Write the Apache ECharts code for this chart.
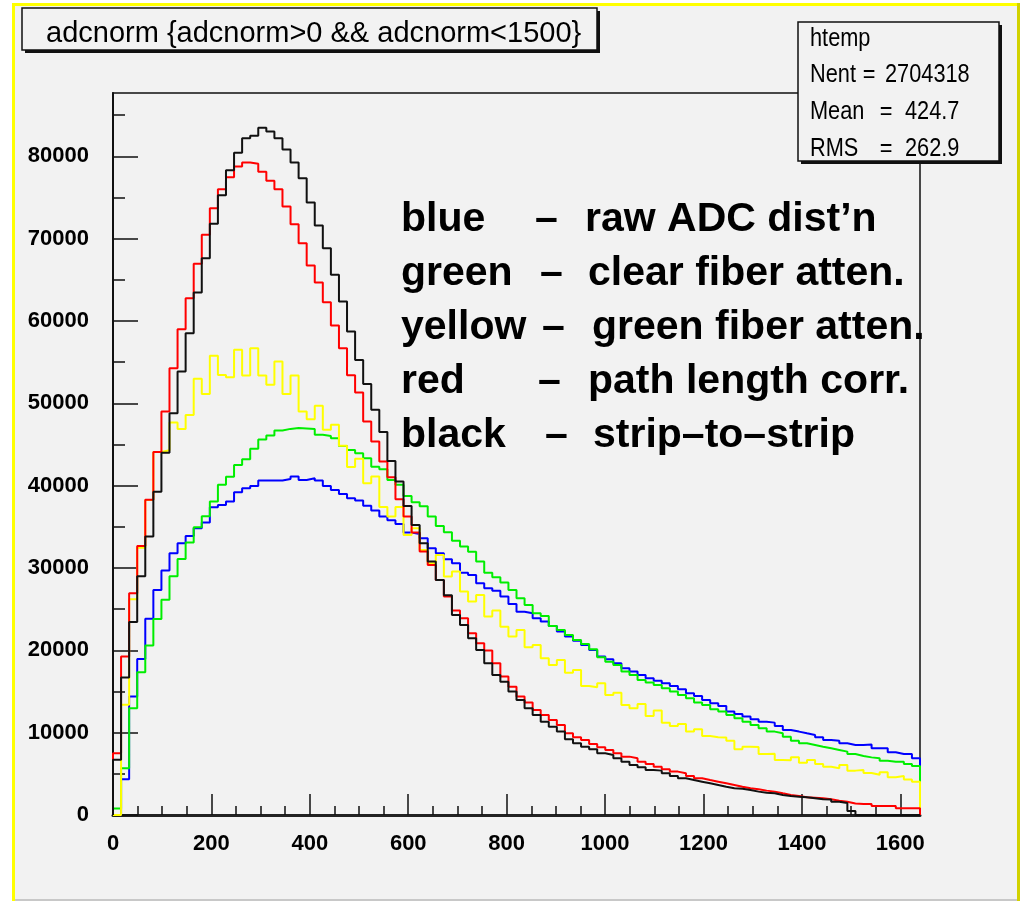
<!DOCTYPE html>
<html>
<head>
<meta charset="utf-8">
<script src="https://cdn.jsdelivr.net/npm/echarts@6/dist/echarts.min.js"></script>
<style>
html,body{margin:0;padding:0;background:#ffffff;}
#chart{width:1022px;height:902px;}
</style>
</head>
<body>
<div id="chart"></div>
<script>
// ---------------- data ----------------
const X_MIN = 0;
const X_MAX = 1640;
const N_BINS = 100;
const Y_MAX = 87700;
const xTickValues = [0, 200, 400, 600, 800, 1000, 1200, 1400, 1600];
const yTickValues = [0, 10000, 20000, 30000, 40000, 50000, 60000, 70000, 80000];
const xMinorStep = 50;
const yMinorStep = 5000;

const blueCounts = [
  0, 4330, 14380, 18950, 23850, 27340, 29690, 31790, 33000, 33900,
  34830, 35520, 37380, 37660, 38070, 39200, 39690, 39970, 40620, 40620,
  40620, 40820, 41110, 40700, 40900, 40620, 39970, 39490, 39000, 38480,
  38190, 37550, 36980, 36250, 35800, 35360, 34300, 34140, 33610, 32400,
  31800, 31070, 30580, 29440, 29160, 28150, 27540, 27250, 26530, 25640,
  24700, 24500, 23900, 23490, 22960, 22280, 21670, 21180, 20660, 20050,
  19240, 18920, 18430, 17820, 17420, 17010, 16610, 16320, 16000, 15670,
  15270, 14780, 14460, 13970, 13570, 13240, 12560, 12270, 11950, 11620,
  11340, 11220, 10810, 10330, 10130, 9920, 9720, 9440, 9110, 9030,
  8710, 8510, 8500, 8550, 8100, 8100, 7620, 7410, 7400, 6890
];
const greenCounts = [
  800, 5670, 12960, 17350, 20600, 23800, 26150, 29000, 31100, 33100,
  34950, 36300, 38070, 40100, 41100, 42520, 43210, 44500, 45600, 46100,
  46700, 46900, 47000, 46950, 46900, 46200, 46050, 45770, 44830, 44350,
  43940, 43340, 42300, 42000, 40700, 40100, 38760, 38000, 37500, 36250,
  35100, 34350, 33300, 32600, 31990, 30780, 29440, 28880, 28230, 27340,
  26330, 25520, 24500, 24180, 22960, 22480, 21870, 21260, 20780, 20130,
  19160, 18630, 18230, 17420, 17010, 16400, 16080, 15800, 15390, 14990,
  14580, 14180, 13650, 13370, 12840, 12560, 12150, 11750, 11340, 10940,
  10530, 10130, 9920, 9520, 9030, 8710, 8510, 8300, 8100, 7900,
  7700, 7410, 7170, 7000, 6890, 6600, 6480, 6480, 6200, 5950
];
const yellowCounts = [
  0, 13400, 26200, 32450, 38270, 44100, 44300, 47670, 46900, 48600,
  52980, 51150, 55770, 53460, 53180, 56500, 53380, 56700, 53380, 52250,
  55080, 51150, 53380, 49000, 48080, 49700, 46800, 47390, 44850, 42280,
  43270, 40300, 41110, 37420, 36250, 37420, 34020, 34830, 32200, 30580,
  31590, 28960, 29570, 27140, 25920, 26730, 24100, 24830, 22880, 21670,
  22480, 20370, 20660, 19040, 18230, 18830, 17290, 17620, 15670, 15510,
  16000, 14580, 14860, 13370, 12960, 13490, 12030, 12680, 11220, 10810,
  11060, 10130, 10410, 9600, 9440, 9400, 9030, 7980, 8300, 8250,
  7410, 7450, 6680, 6650, 7010, 6360, 6680, 6200, 5870, 5670,
  6080, 5390, 5470, 5100, 4900, 5200, 4580, 4740, 4300, 4050
];
const redCounts = [
  7500, 19240, 26940, 32680, 38300, 44100, 49000, 54270, 59010, 62780,
  66950, 70470, 73710, 76020, 77460, 78770, 79260, 79100, 78120, 77050,
  76000, 73910, 71770, 69460, 66740, 64680, 62290, 59450, 56700, 53420,
  51310, 47790, 45360, 42930, 41030, 38350, 36250, 34300, 32000, 30380,
  28550, 26530, 24830, 23900, 22070, 20860, 19970, 18430, 16810, 15590,
  14380, 13650, 12760, 12150, 11540, 10940, 9920, 9440, 9110, 8630,
  8220, 7900, 7490, 7090, 6890, 6480, 6200, 5870, 5550, 5270,
  5060, 4740, 4460, 4250, 4050, 3850, 3650, 3440, 3240, 3120,
  2960, 2840, 2630, 2430, 2310, 2150, 2100, 2030, 1900, 1740,
  1620, 1400, 1340, 1340, 1090, 1090, 1090, 810, 810, 810
];
const blackCounts = [
  6700, 16700, 23450, 29000, 33820, 39250, 44000, 48800, 53870, 58520,
  63460, 67640, 71810, 75270, 78330, 80430, 82210, 82500, 83470, 83020,
  82210, 80830, 79260, 77360, 74400, 71620, 68850, 65610, 62370, 58730,
  55280, 52350, 49210, 46530, 43010, 40500, 37540, 35240, 33010, 30800,
  28550, 26690, 24300, 23090, 21470, 20050, 18430, 17010, 16200, 14990,
  13970, 12960, 12150, 11340, 10730, 10130, 9190, 8710, 8300, 7980,
  7490, 7290, 6890, 6480, 6080, 5790, 5470, 5390, 5060, 4740,
  4460, 4250, 4050, 3850, 3650, 3440, 3240, 3200, 3040, 2840,
  2710, 2630, 2430, 2310, 2230, 2150, 2030, 1900, 1880, 1620,
  1460, 500, 0, 0, 0, 0, 0, 0, 0, 0
];

const seriesNames = ['blue', 'green', 'yellow', 'red', 'black'];
const seriesColors = ['#0000ff', '#00ee00', '#ffff00', '#ff0000', '#111111'];
const seriesCounts = [blueCounts, greenCounts, yellowCounts, redCounts, blackCounts];

const titleText = 'adcnorm {adcnorm>0 && adcnorm<1500}';
const statsName = 'htemp';
const statsLabels = ['Nent', 'Mean', 'RMS'];
const statsValues = ['2704318', '424.7', '262.9'];
const noteNames = ['blue', 'green', 'yellow', 'red', 'black'];
const noteDescs = ['raw ADC dist\u2019n', 'clear fiber atten.', 'green fiber atten.', 'path length corr.', 'strip\u2013to\u2013strip'];

// ---------------- helpers ----------------
function histPoints(counts) {
  const w = (X_MAX - X_MIN) / N_BINS;
  const pts = [[X_MIN, 0]];
  counts.forEach(function (c, i) { pts.push([X_MIN + i * w, c]); });
  pts.push([X_MAX, counts[counts.length - 1]]);
  pts.push([X_MAX, 0]);
  return pts;
}
function range(step, max) {
  const out = [];
  for (let v = 0; v <= max; v += step) out.push(v);
  return out;
}

// ---------------- chart ----------------
const chart = echarts.init(document.getElementById('chart'), null, { renderer: 'canvas' });

const GRID = { left: 113, top: 93, width: 807, height: 722 };

const graphics = [];
// page background + frame
graphics.push({ type: 'rect', silent: true, z: -100, shape: { x: 12, y: 3, width: 1008, height: 898 }, style: { fill: '#f2f2f2' } });
graphics.push({ type: 'rect', silent: true, z: 100, shape: { x: 12, y: 3, width: 3, height: 898 }, style: { fill: '#ffff00' } });
graphics.push({ type: 'rect', silent: true, z: 100, shape: { x: 12, y: 3, width: 1008, height: 3 }, style: { fill: '#ffff00' } });
graphics.push({ type: 'rect', silent: true, z: 100, shape: { x: 1017, y: 3, width: 3, height: 898 }, style: { fill: '#d2d200' } });
graphics.push({ type: 'rect', silent: true, z: 100, shape: { x: 15, y: 899, width: 1002, height: 2 }, style: { fill: '#c8c8c8' } });

// title box
graphics.push({ type: 'rect', silent: true, z: 50, shape: { x: 25, y: 11, width: 575, height: 42 }, style: { fill: '#111111' } });
graphics.push({ type: 'rect', silent: true, z: 51, shape: { x: 22, y: 8, width: 575, height: 42 }, style: { fill: '#f2f2f2', stroke: '#111111', lineWidth: 1.5 } });
graphics.push({ type: 'text', silent: true, z: 52, x: 46, y: 34, style: { text: titleText, fill: '#000', fontFamily: "'Liberation Sans', Arial", fontSize: 29, textAlign: 'left', align: 'left', textVerticalAlign: 'middle', verticalAlign: 'middle' } });

// stats box
graphics.push({ type: 'rect', silent: true, z: 50, shape: { x: 801, y: 25, width: 201, height: 139 }, style: { fill: '#111111' } });
graphics.push({ type: 'rect', silent: true, z: 51, shape: { x: 798, y: 22, width: 201, height: 139 }, style: { fill: '#f2f2f2', stroke: '#111111', lineWidth: 1.5 } });
const statFont = { fill: '#000', fontFamily: "'Liberation Sans', Arial", fontSize: 25, textVerticalAlign: 'middle', verticalAlign: 'middle' };
graphics.push({ type: 'text', silent: true, z: 52, x: 810, y: 39, scaleX: 0.87, style: Object.assign({ text: statsName, textAlign: 'left', align: 'left' }, statFont) });
const statRowY = [75.6, 112.3, 149];
const statEqX = [869, 886, 886];
const statValX = [885, 905, 905];
statsLabels.forEach(function (lab, i) {
  graphics.push({ type: 'text', silent: true, z: 52, x: 810, y: statRowY[i], scaleX: 0.87, style: Object.assign({ text: lab, textAlign: 'left', align: 'left' }, statFont) });
  graphics.push({ type: 'text', silent: true, z: 52, x: statEqX[i], y: statRowY[i], scaleX: 0.87, style: Object.assign({ text: '=', textAlign: 'center', align: 'center' }, statFont) });
  graphics.push({ type: 'text', silent: true, z: 52, x: statValX[i], y: statRowY[i], scaleX: 0.87, style: Object.assign({ text: statsValues[i], textAlign: 'left', align: 'left' }, statFont) });
});

// annotation block
const noteY = [219.5, 273.5, 327.5, 381.5, 435.5];
const noteDashX = [535, 540, 542, 538, 545];
const noteDescX = [585, 588, 592, 588, 593];
const noteFont = { fill: '#000', fontFamily: "'Liberation Sans', Arial", fontSize: 41, fontWeight: 'bold', textAlign: 'left', align: 'left', textVerticalAlign: 'middle', verticalAlign: 'middle' };
noteNames.forEach(function (n, i) {
  graphics.push({ type: 'text', silent: true, z: 40, x: 401, y: noteY[i], style: Object.assign({ text: n }, noteFont) });
  graphics.push({ type: 'text', silent: true, z: 40, x: noteDashX[i], y: noteY[i], style: Object.assign({ text: '\u2013' }, noteFont) });
  graphics.push({ type: 'text', silent: true, z: 40, x: noteDescX[i], y: noteY[i], style: Object.assign({ text: noteDescs[i] }, noteFont) });
});

const axisLabelStyle = { fontFamily: "'Liberation Sans', Arial", fontSize: 22, fontWeight: 'bold', color: '#000', formatter: function (v) { return String(v); } };

const option = {
  backgroundColor: 'transparent',
  animation: false,
  grid: Object.assign({ show: true, borderColor: '#111', borderWidth: 1.5, backgroundColor: 'transparent', outerBoundsMode: 'none', containLabel: false }, GRID),
  xAxis: [
    {
      type: 'value', position: 'bottom', min: X_MIN, max: X_MAX, interval: 200,
      axisLine: { show: true, onZero: false, lineStyle: { color: '#222', width: 3 } },
      axisTick: { show: true, inside: true, length: 21, customValues: xTickValues, lineStyle: { color: '#111', width: 1.5 } },
      axisLabel: Object.assign({ show: true, margin: 18, customValues: xTickValues }, axisLabelStyle),
      splitLine: { show: false }
    },
    {
      type: 'value', position: 'bottom', min: X_MIN, max: X_MAX, interval: xMinorStep,
      axisLine: { show: false },
      axisTick: { show: true, inside: true, length: 9, customValues: range(xMinorStep, X_MAX), lineStyle: { color: '#111', width: 1.5 } },
      axisLabel: { show: false },
      splitLine: { show: false }
    }
  ],
  yAxis: [
    {
      type: 'value', position: 'left', min: 0, max: Y_MAX, interval: 10000,
      axisLine: { show: true, onZero: false, lineStyle: { color: '#111', width: 2 } },
      axisTick: { show: true, inside: true, length: 25, customValues: yTickValues, lineStyle: { color: '#111', width: 1.5 } },
      axisLabel: Object.assign({ show: true, margin: 24, customValues: yTickValues }, axisLabelStyle),
      splitLine: { show: false }
    },
    {
      type: 'value', position: 'left', min: 0, max: Y_MAX, interval: yMinorStep,
      axisLine: { show: false },
      axisTick: { show: true, inside: true, length: 12, customValues: range(yMinorStep, Y_MAX), lineStyle: { color: '#111', width: 1.5 } },
      axisLabel: { show: false },
      splitLine: { show: false }
    }
  ],
  series: seriesCounts.map(function (counts, i) {
    return {
      type: 'line',
      name: seriesNames[i],
      xAxisIndex: 0,
      yAxisIndex: 0,
      data: histPoints(counts),
      step: 'end',
      showSymbol: false,
      symbol: 'none',
      clip: false,
      silent: true,
      lineStyle: { color: seriesColors[i], width: 2 },
      itemStyle: { color: seriesColors[i] },
      z: 2 + i
    };
  }),
  graphic: { elements: graphics }
};

chart.setOption(option);
</script>
</body>
</html>
